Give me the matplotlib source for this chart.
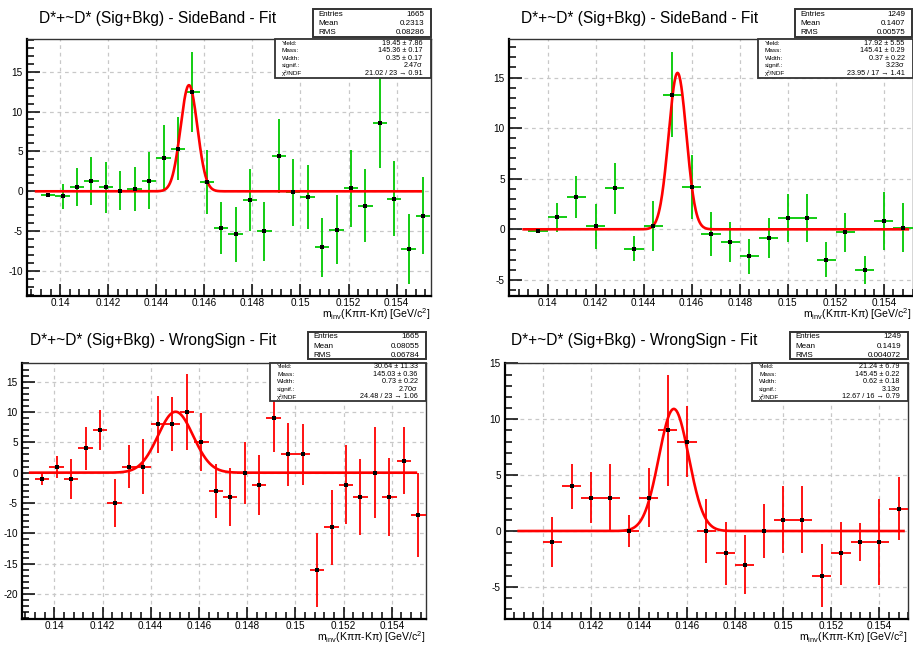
import numpy as np
import matplotlib
matplotlib.use("Agg")
import matplotlib.pyplot as plt
from matplotlib.patches import Rectangle
from matplotlib.ticker import MultipleLocator, FormatStrFormatter

plt.rcParams['font.family'] = ['Liberation Sans', 'DejaVu Sans']
plt.rcParams['mathtext.fontset'] = 'custom'
plt.rcParams['mathtext.rm'] = 'Liberation Sans'
plt.rcParams['mathtext.it'] = 'Liberation Sans:italic'

W, H = 913, 648

# ---------------- data ----------------
# binning: (low edge, bin width, number of bins) in GeV/c^2
sb_binning_a = (0.1392, 0.0006, 27)
sb_binning_b = (0.1392, 0.0008, 20)

# SideBand, left pad
sb_a_vals = [-0.4, -0.63, 0.58, 1.3, 0.5, 0.1, 0.3, 1.35, 4.2, 5.35, 12.4, 1.2, -4.6, -5.4,
             -1.1, -5.0, 4.45, -0.1, -0.7, -7.0, -4.8, 0.38, -1.8, 8.55, -0.95, -7.2, -3.05]
sb_a_errs = [0.25, 1.6, 2.4, 3.0, 3.2, 2.4, 2.8, 3.55, 4.1, 3.9, 5.0, 4.0, 3.2, 3.4,
             3.9, 3.7, 4.6, 4.2, 4.0, 3.7, 4.3, 4.8, 4.6, 5.6, 4.7, 4.4, 4.85]

# SideBand, right pad
sb_b_vals = [-0.2, 1.19, 3.2, 0.3, 4.05, -1.9, 0.33, 13.3, 4.15, -0.46, -1.25, -2.64, -0.86,
             1.12, 1.12, -3.03, -0.3, -4.02, 0.82, 0.16]
sb_b_errs = [0.15, 1.45, 2.05, 2.2, 2.5, 1.25, 2.45, 4.2, 3.15, 2.2, 1.98, 1.73, 1.93,
             2.4, 2.4, 1.73, 1.95, 1.42, 2.88, 2.44]

# WrongSign, left pad
ws_a_vals = [-1, 1, -1, 4, 7, -5, 1, 1, 8, 8, 10, 5, -3, -4, 0, -2, 9, 3, 3, -16, -9, -2,
             -4, 0, -4, 2, -7]
ws_a_errs = [1.0, 1.8, 3.3, 3.5, 3.3, 3.9, 3.6, 4.55, 4.7, 4.5, 6.2, 4.8, 4.4, 4.75, 5.1,
             4.9, 5.6, 5.2, 5.0, 6.1, 6.2, 6.5, 6.3, 7.5, 6.45, 5.45, 6.87]

# WrongSign, right pad (first bin empty)
ws_b_vals = [0, -1, 4, 3, 3, 0, 3, 9, 8, 0, -2, -3, 0, 1, 1, -4, -2, -1, -1, 2]
ws_b_errs = [0, 2.24, 2.0, 2.3, 3.0, 1.4, 2.6, 5.0, 3.2, 2.85, 2.8, 2.65, 2.45, 3.0, 3.0,
             2.8, 2.8, 1.7, 3.85, 2.8]

# fit results: yield, mass [MeV], width [MeV]
fit_yield = [19.45, 17.92, 30.64, 21.24]
fit_yield_err = [7.86, 5.55, 11.33, 6.79]
fit_mass = [145.36, 145.41, 145.03, 145.45]
fit_mass_err = [0.17, 0.29, 0.36, 0.22]
fit_width = [0.35, 0.37, 0.73, 0.62]
fit_width_err = [0.17, 0.22, 0.22, 0.18]
fit_signif = [2.47, 3.23, 2.70, 3.13]
fit_chi2 = [21.02, 23.95, 24.48, 12.67]
fit_ndf = [23, 17, 23, 16]
fit_range = (0.139, 0.155)

stat_entries = [1665, 1249, 1665, 1249]
stat_mean = ["0.2313", "0.1407", "0.08055", "0.1419"]
stat_rms = ["0.08286", "0.00575", "0.06784", "0.004072"]

titles = ["D*+~D* (Sig+Bkg) - SideBand - Fit",
          "D*+~D* (Sig+Bkg) - SideBand - Fit",
          "D*+~D* (Sig+Bkg) - WrongSign - Fit",
          "D*+~D* (Sig+Bkg) - WrongSign - Fit"]

# ---------------- layout (pixels) ----------------
pads = [
    dict(ax=(27, 39.3, 431, 296), xlim=(0.13862, 0.15543), ylim=(-13.12, 19.05),
         title_r=276, title_y=18, stats=(312.7, 9, 431, 36.7), fitbox=(275, 39.3, 431, 78.3)),
    dict(ax=(509, 39.3, 912.8, 296), xlim=(0.13839, 0.15521), ylim=(-6.59, 18.78),
         title_r=758.3, title_y=18, stats=(795, 9, 912, 36.7), fitbox=(757.7, 39.3, 913, 78.3)),
    dict(ax=(22, 362.7, 426, 618.7), xlim=(0.13866, 0.15542), ylim=(-24.07, 18.13),
         title_r=276, title_y=341, stats=(308, 332, 426, 359.3), fitbox=(270, 362.7, 426, 400.7)),
    dict(ax=(505, 362.7, 908.3, 618.7), xlim=(0.13843, 0.1552), ylim=(-7.85, 15.07),
         title_r=757.7, title_y=341, stats=(790, 332, 907.7, 359.3), fitbox=(752.3, 362.7, 908.3, 400.7)),
]

datasets = [
    (sb_binning_a, sb_a_vals, sb_a_errs, '#00c800'),
    (sb_binning_b, sb_b_vals, sb_b_errs, '#00c800'),
    (sb_binning_a, ws_a_vals, ws_a_errs, '#ff0000'),
    (sb_binning_b, ws_b_vals, ws_b_errs, '#ff0000'),
]


def fx(x):
    return x / W


def fy(y):
    return 1 - y / H


fig = plt.figure(figsize=(W / 100, H / 100), dpi=100)
fig.patch.set_facecolor('white')

for i, (pad, (binning, vals, errs, col)) in enumerate(zip(pads, datasets)):
    x0, y0, x1, y1 = pad['ax']
    ax = fig.add_axes([fx(x0), fy(y1), (x1 - x0) / W, (y1 - y0) / H])
    lo, bw, n = binning
    centers = lo + bw * (np.arange(n) + 0.5)
    vals = np.asarray(vals, float)
    errs = np.asarray(errs, float)
    keep = ~((vals == 0) & (errs == 0))

    ax.errorbar(centers[keep], vals[keep], yerr=errs[keep], xerr=bw / 2, fmt='none',
                ecolor=col, elinewidth=1.3, capsize=0, zorder=3)
    ax.scatter(centers[keep], vals[keep], marker='s', s=5, c='black', linewidths=0,
               zorder=6)

    # gaussian signal on flat background
    xs = np.linspace(fit_range[0], fit_range[1], 800)
    sig = fit_width[i]
    amp = fit_yield[i] * bw * 1000 / (np.sqrt(2 * np.pi) * sig)
    ys = amp * np.exp(-0.5 * ((xs * 1000 - fit_mass[i]) / sig) ** 2)
    ax.plot(xs, ys, color='#ff0000', lw=1.9, zorder=4)

    ax.set_xlim(*pad['xlim'])
    ax.set_ylim(*pad['ylim'])
    ax.xaxis.set_major_locator(MultipleLocator(0.002))
    ax.xaxis.set_minor_locator(MultipleLocator(0.0004))
    ax.yaxis.set_major_locator(MultipleLocator(5))
    ax.yaxis.set_minor_locator(MultipleLocator(1))
    ax.xaxis.set_major_formatter(matplotlib.ticker.FuncFormatter(
        lambda v, p: ('%.3f' % v).rstrip('0')))
    ax.yaxis.set_major_formatter(FormatStrFormatter('%d'))
    ax.tick_params(which='both', direction='in', top=False, right=False,
                   labelsize=7.2, width=1.1, color='black')
    ax.tick_params(axis='x', pad=1.5)
    ax.tick_params(axis='y', pad=3)
    ax.tick_params(which='major', length=9)
    ax.tick_params(which='minor', length=5)
    ax.grid(True, which='major', color='#c8c8c8', ls=(0, (3, 3)), lw=0.9, zorder=0)
    ax.set_axisbelow(True)
    for s in ('left', 'bottom'):
        ax.spines[s].set_linewidth(1.6)
    for s in ('top', 'right'):
        ax.spines[s].set_linewidth(1.0)
        ax.spines[s].set_color('#333333')

    # axis title, right-aligned under the axis
    fig.text(fx(x1 - 1), fy(y1 + 18.5), 'm$_{\\mathrm{inv}}$(K\u03c0\u03c0-K\u03c0) [GeV/c$^{2}$]',
             ha='right', va='center', fontsize=7.6)

    # title
    fig.text(fx(pad['title_r']), fy(pad['title_y']), titles[i], ha='right', va='center',
             fontsize=11.2)

    # stats box
    sx0, sy0, sx1, sy1 = pad['stats']
    fig.add_artist(Rectangle((fx(sx0), fy(sy1)), (sx1 - sx0) / W, (sy1 - sy0) / H,
                             transform=fig.transFigure, facecolor='white',
                             edgecolor='#333333', lw=1.4, zorder=5))
    rows = [("Entries", str(stat_entries[i])), ("Mean", stat_mean[i]), ("RMS", stat_rms[i])]
    for k, (lab, val) in enumerate(rows):
        yy = sy0 + 5 + k * 9.2
        fig.text(fx(sx0 + 5.5), fy(yy), lab, ha='left', va='center', fontsize=5.8, zorder=6)
        fig.text(fx(sx1 - 6.5), fy(yy), val, ha='right', va='center', fontsize=5.8, zorder=6)

    # fit results box
    bx0, by0, bx1, by1 = pad['fitbox']
    fig.add_artist(Rectangle((fx(bx0), fy(by1)), (bx1 - bx0) / W, (by1 - by0) / H,
                             transform=fig.transFigure, facecolor='white',
                             edgecolor='#333333', lw=1.3, zorder=5))
    chi = fit_chi2[i] / fit_ndf[i]
    frows = [("Yield:", "%.2f \u00b1 %.2f" % (fit_yield[i], fit_yield_err[i])),
             ("Mass:", "%.2f \u00b1 %.2f" % (fit_mass[i], fit_mass_err[i])),
             ("Width:", "%.2f \u00b1 %.2f" % (fit_width[i], fit_width_err[i])),
             ("signif.:", "%.2f\u03c3" % fit_signif[i]),
             ("\u03c7\u00b2/NDF", "%.2f / %d \u2192 %.2f" % (fit_chi2[i], fit_ndf[i], chi))]
    for k, (lab, val) in enumerate(frows):
        yy = by0 + 3.8 + k * 7.6
        fig.text(fx(bx0 + 7), fy(yy), lab, ha='left', va='center', fontsize=4.6, zorder=6)
        fig.text(fx(bx1 - 8.5), fy(yy), val, ha='right', va='center', fontsize=5.2, zorder=6)

fig.savefig('out.png', dpi=100, facecolor='white')
